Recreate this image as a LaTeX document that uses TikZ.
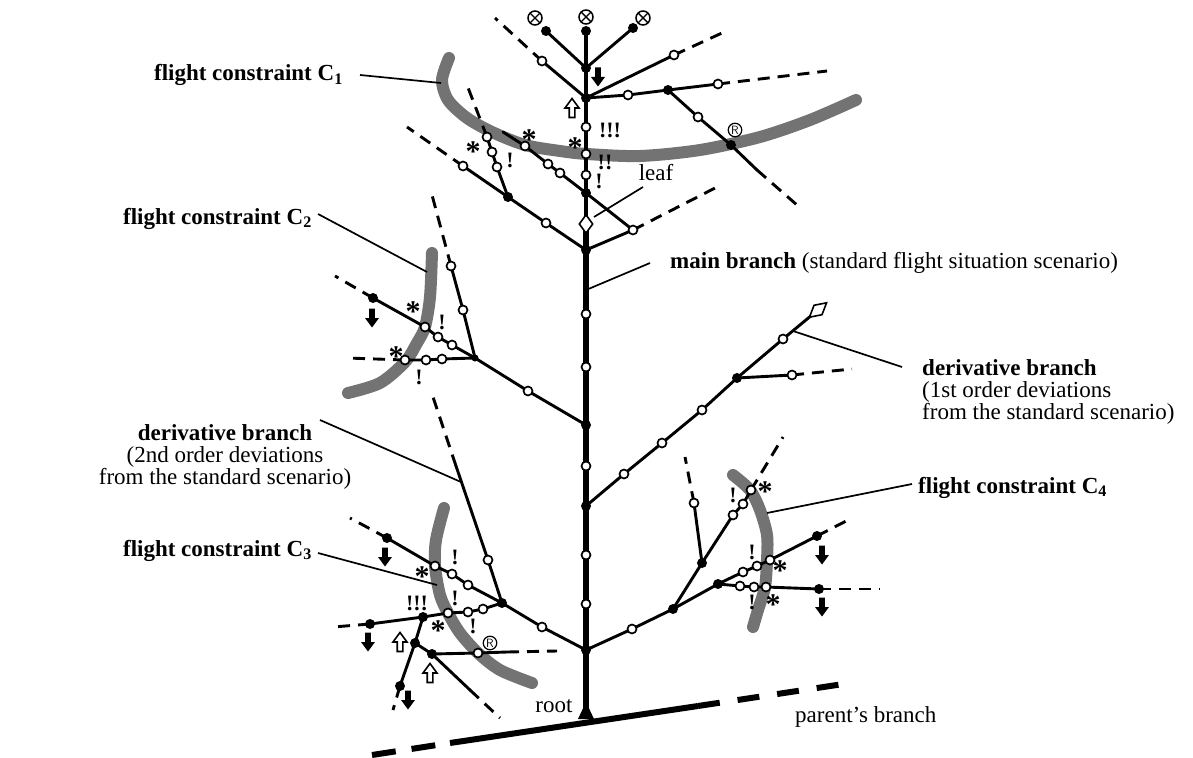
\documentclass[tikz,border=0pt]{standalone}
\usepackage{fontspec}
\setmainfont{Liberation Serif}
\usetikzlibrary{shapes.geometric}
\begin{document}
\begin{tikzpicture}[x=1pt,y=-1pt,
  br/.style={line width=2.9pt, line cap=round, line join=round},
  dsh/.style={line width=2.9pt, dash pattern=on 12pt off 8pt},
  ldr/.style={line width=1.7pt},
  oc/.style={circle, draw, fill=white, line width=1.7pt, inner sep=0pt, minimum size=9pt},
  fc/.style={circle, fill=black, inner sep=0pt, minimum size=10pt},
  cons/.style={draw=black!55, line width=12pt, line cap=round, line join=round},
  lab/.style={font=\fontsize{23}{22}\selectfont, inner sep=0pt},
  blab/.style={font=\bfseries\fontsize{23}{22}\selectfont, inner sep=0pt},
  ast/.style={font=\bfseries\fontsize{30}{30}\selectfont, inner sep=0pt},
  exc/.style={font=\bfseries\fontsize{22}{22}\selectfont, inner sep=0pt},
  regm/.style={circle, draw, line width=1.2pt, fill=white, inner sep=0.8pt, font=\sffamily\fontsize{12}{12}\selectfont},
  darr/.pic={\fill[black] (-2.8,-9.5) -- (2.8,-9.5) -- (2.8,0) -- (7,0) -- (0,9.5) -- (-7,0) -- (-2.8,0) -- cycle;},
  uarr/.pic={\draw[line width=1.6pt, fill=white, line join=miter] (-2.8,9.5) -- (2.8,9.5) -- (2.8,0) -- (7,0) -- (0,-9.5) -- (-7,0) -- (-2.8,0) -- cycle;},
  otim/.pic={\draw[line width=1.5pt, fill=white] (0,0) circle (7pt); \draw[line width=1.4pt] (-4.9,-4.9) -- (4.9,4.9) (-4.9,4.9) -- (4.9,-4.9);}
]
\useasboundingbox (0,0) rectangle (1193,757);

% ---------- constraint arcs ----------
\draw[cons] plot[smooth] coordinates {(449,58) (442,80) (448,100) (467,118) (492,132) (525,145) (560,151) (587,154) (640,156) (700,150) (760,137) (810,120) (856,100)};
\draw[cons] plot[smooth] coordinates {(432,253) (430,297) (425,327) (417,343) (405,362) (380,383) (348,393)};
\draw[cons] plot[smooth] coordinates {(444,508) (436,540) (435,566) (440,595) (448,613) (460,633) (478,653) (500,670) (532,683)};
\draw[cons] plot[smooth] coordinates {(733,475) (750,490) (760,510) (767,535) (767,560) (765,587) (758,610) (753,627)};

% ---------- trunk coordinates ----------
\coordinate (root) at (586,716);
\coordinate (t650) at (586,650);
\coordinate (t604) at (586,604);
\coordinate (t555) at (586,555);
\coordinate (t506) at (586,506);
\coordinate (t466) at (586,466);
\coordinate (t425) at (586,425);
\coordinate (t367) at (586,367);
\coordinate (t314) at (586,314);
\coordinate (t290) at (586,290);
\coordinate (t250) at (586,250);
\coordinate (leafd) at (586,224);
\coordinate (t193) at (586,193);
\coordinate (t175) at (586,175);
\coordinate (t154) at (586,154);
\coordinate (t127) at (586,127);
\coordinate (t98) at (586,98);
\coordinate (t68) at (586,68);
\coordinate (t31) at (586,31);

% parent's branch
\coordinate (pb0) at (372,755);
\coordinate (pb1) at (450,743);
\coordinate (pb2) at (698,706);
\coordinate (pb3) at (850,683);
\draw[line width=6pt] (pb1) -- (pb2);
\draw[line width=6pt, dash pattern=on 24pt off 16pt] (pb0) -- (pb1);
\draw[line width=6pt, dash pattern=on 22pt off 18pt] (pb2) -- (pb3);

\draw[line width=5.5pt] (root) -- (leafd);
\draw[line width=3.4pt] (leafd) -- (t31);
\fill (578,719) -- (594,719) -- (586,702) -- cycle;

% ---------- top crown ----------
\coordinate (l31) at (546,31);
\coordinate (r28) at (633,28);
\draw[br] (t68) -- (l31);
\draw[br] (t68) -- (r28);
\coordinate (a61) at (542,61); \coordinate (a18) at (495,18);
\draw[br] (t98) -- (a61); \draw[dsh] (a61) -- (a18);
\coordinate (b55) at (674,55); \coordinate (b33) at (722,33);
\draw[br] (t98) -- (b55); \draw[dsh] (b55) -- (b33);
\coordinate (c95) at (628,95); \coordinate (c90) at (668,90); \coordinate (c84) at (718,84); \coordinate (c71) at (827,71);
\draw[br] (t98) -- (c95) -- (c90) -- (c84); \draw[dsh] (c84) -- (c71);
\coordinate (e117) at (698,117); \coordinate (e145) at (731,145); \coordinate (e170) at (757,170); \coordinate (e205) at (797,205);
\draw[br] (c90) -- (e117) -- (e145) -- (e170); \draw[dsh] (e170) -- (e205);

\coordinate (m223) at (546,223); \coordinate (m197) at (508,197); \coordinate (m166) at (463,166); \coordinate (m127) at (407,127);
\draw[br] (t250) -- (m223) -- (m197) -- (m166); \draw[dsh] (m166) -- (m127);
\coordinate (n167) at (497,167); \coordinate (n152) at (492,152); \coordinate (n137) at (487,137); \coordinate (n85) at (467,85);
\draw[br] (m197) -- (n167) -- (n152) -- (n137); \draw[dsh] (n137) -- (n85);
\coordinate (p132) at (503,132); \coordinate (p146) at (525,146); \coordinate (p164) at (548,164); \coordinate (p173) at (560,173); \coordinate (q230) at (633,230); \coordinate (q187) at (717,187);
\draw[br] (p132) -- (p146) -- (p164) -- (p173) -- (t193) -- (q230);
\draw[br] (t250) -- (q230); \draw[dsh] (q230) -- (q187);

% ---------- C2 region ----------
\coordinate (s298) at (373,298); \coordinate (s277) at (335,276); \coordinate (s327) at (425,327); \coordinate (s337) at (438,337); \coordinate (s345) at (452,345); \coordinate (j2) at (475,358); \coordinate (s391) at (528,391);
\draw[br] (t425) -- (s391) -- (j2) -- (s345) -- (s337) -- (s327) -- (s298); \draw[dsh] (s298) -- (s277);
\coordinate (h405) at (405,360); \coordinate (h426) at (426,360); \coordinate (h442) at (442,359); \coordinate (h348) at (347,358);
\draw[br] (j2) -- (h442) -- (h426) -- (h405); \draw[dsh] (h405) -- (h348);
\coordinate (v310) at (463,310); \coordinate (v266) at (451,266); \coordinate (v195) at (432,195);
\draw[br] (j2) -- (v310) -- (v266); \draw[dsh] (v266) -- (v195);

% ---------- 2nd order branch ----------
\coordinate (k397) at (433,397); \coordinate (k466) at (456,466); \coordinate (k482) at (461,482); \coordinate (k560) at (488,560); \coordinate (j3) at (502,603);
\draw[br] (j3) -- (k560) -- (k466); \draw[dsh] (k466) -- (k397);

% ---------- C3 region ----------
\coordinate (u538) at (387,538); \coordinate (u518) at (350,518); \coordinate (u566) at (435,566); \coordinate (u574) at (452,574); \coordinate (u585) at (468,585); \coordinate (u627) at (542,627);
\draw[br] (t650) -- (u627) -- (j3) -- (u585) -- (u574) -- (u566) -- (u538); \draw[dsh] (u538) -- (u518);
\coordinate (w609) at (483,609); \coordinate (w612) at (468,612); \coordinate (w613) at (448,613); \coordinate (v617) at (423,617); \coordinate (v624) at (370,624); \coordinate (v627) at (333,627);
\draw[br] (j3) -- (w609) -- (w612) -- (w613) -- (v617) -- (v624); \draw[dsh] (v624) -- (v627);
\coordinate (x643) at (415,643); \coordinate (x686) at (400,686); \coordinate (x707) at (393,710);
\draw[br] (v617) -- (x643) -- (x686); \draw[dsh] (x686) -- (x707);
\coordinate (y654) at (432,654); \coordinate (y690) at (470,690); \coordinate (y717) at (500,718);
\draw[br] (x643) -- (y654) -- (y690); \draw[dsh] (y690) -- (y717);
\coordinate (z653) at (478,653); \coordinate (z652) at (507,652); \coordinate (z651) at (557,651);
\draw[br] (y654) -- (z653) -- (z652); \draw[dsh] (z652) -- (z651);

% ---------- C4 region ----------
\coordinate (g629) at (632,629); \coordinate (g609) at (673,609); \coordinate (g584) at (718,584);
\draw[br] (t650) -- (g629) -- (g609) -- (g584);
\coordinate (h586) at (740,586); \coordinate (h587) at (754,587); \coordinate (h588) at (766,587); \coordinate (h589) at (819,589); \coordinate (h589d) at (880,589);
\draw[br] (g584) -- (h586) -- (h587) -- (h588) -- (h589); \draw[dsh] (h589) -- (h589d);
\coordinate (i572) at (743,572); \coordinate (i566) at (757,566); \coordinate (i560) at (770,560); \coordinate (i536) at (817,536); \coordinate (i518) at (852,518);
\draw[br] (g584) -- (i572) -- (i566) -- (i560) -- (i536); \draw[dsh] (i536) -- (i518);
\coordinate (zz563) at (702,563); \coordinate (f503) at (694,503); \coordinate (f457) at (685,457);
\draw[br] (g609) -- (zz563) -- (f503); \draw[dsh] (f503) -- (f457);
\coordinate (o515) at (733,515); \coordinate (o504) at (743,504); \coordinate (o490) at (751,490); \coordinate (o437) at (783,437);
\draw[br] (zz563) -- (o515) -- (o504) -- (o490); \draw[dsh] (o490) -- (o437);

% ---------- 1st order branch ----------
\coordinate (d474) at (624,474); \coordinate (d443) at (662,443); \coordinate (d410) at (702,410); \coordinate (d378) at (737,378); \coordinate (d339) at (783,339); \coordinate (d332) at (793,331); \coordinate (dia) at (818,310);
\draw[br] (t506) -- (d474) -- (d443) -- (d410) -- (d378) -- (d339) -- (dia);
\coordinate (d375) at (792,375); \coordinate (d369) at (852,369);
\draw[br] (d378) -- (d375); \draw[dsh] (d375) -- (d369);

% ---------- markers ----------
\foreach \p in {t604,t555,t466,t367,t314,t175,t154,t127,c95,c84,a61,b55,e117,m223,m166,n167,n152,n137,p146,p164,p173,q230,
  s327,s337,s345,s391,h405,h426,h442,v310,v266,k560,u566,u574,u585,u627,w609,w612,w613,z653,
  g629,h586,h587,h588,i572,i566,i560,f503,o515,o504,o490,d474,d443,d410,d339,d375}
  \node[oc] (mk-\p) at (\p) {};
\foreach \p in {t650,t506,t425,t250,t193,t98,t68,t31,l31,r28,c90,e145,m197,s298,u538,j3,v617,v624,x643,x686,y654,
  g609,g584,h589,i536,zz563,d378}
  \node[fc] (mk-\p) at (\p) {};
\node[fc, minimum size=7pt] (mk-j2) at (j2) {};
\node[diamond, draw, fill=white, line width=1.6pt, inner sep=0pt, minimum width=14pt, minimum height=19pt] (leafdia) at (leafd) {};
\node[diamond, draw, fill=white, line width=1.6pt, inner sep=0pt, minimum width=23pt, minimum height=13pt, rotate=40] (tipdia) at (dia) {};

\pic (ot1) at (535,18) {otim};
\pic (ot2) at (586,17) {otim};
\pic (ot3) at (643,18) {otim};

\node[regm] (reg1) at (735,130) {R};
\node[regm] (reg2) at (490,643) {R};

% arrows
\pic (da1) at (598,77) {darr};
\pic (da2) at (372,318) {darr};
\pic (da3) at (385,557) {darr};
\pic (da4) at (368,642) {darr};
\pic (da5) at (408,700) {darr};
\pic (da6) at (822,555) {darr};
\pic (da7) at (822,607) {darr};
\pic (ua1) at (572,108) {uarr};
\pic (ua2) at (400,642) {uarr};
\pic (ua3) at (430,673) {uarr};

% asterisks
\foreach \q [count=\i] in {(575,148),(529,140),(473,152),(413,312),(396,357),(422,577),(438,631),(765,492),(780,571),(773,605)}
  \node[ast] (as\i) at \q {*};
% exclamation marks
\node[exc] (ex1) at (610,130) {!!!};
\node[exc] (ex2) at (605,162) {!!};
\node[exc] (ex3) at (599,181) {!};
\node[exc] (ex4) at (510,160) {!};
\node[exc] (ex5) at (442,322) {!};
\node[exc] (ex6) at (419,377) {!};
\node[exc] (ex7) at (417,603) {!!!};
\node[exc] (ex8) at (455,598) {!};
\node[exc] (ex9) at (473,626) {!};
\node[exc] (ex10) at (455,557) {!};
\node[exc] (ex11) at (733,495) {!};
\node[exc] (ex12) at (752,552) {!};
\node[exc] (ex13) at (752,602) {!};

% ---------- labels ----------
\node[blab, anchor=base east] (lC1) at (343,81) {flight constraint C\textsubscript{1}};
\node[blab, anchor=base east] (lC2) at (312,224) {flight constraint C\textsubscript{2}};
\node[blab, anchor=base east] (lC3) at (312,556) {flight constraint C\textsubscript{3}};
\node[blab, anchor=base west] (lC4) at (918,493) {flight constraint C\textsubscript{4}};
\node[lab, anchor=base west] (lmain) at (670,268) {\textbf{main branch} (standard flight situation scenario)};
\node[lab, anchor=base west, align=left] (l1st) at (922,419) {\textbf{derivative branch}\\(1st order deviations\\from the standard scenario)};
\node[lab, anchor=base, align=center] (l2nd) at (225,484) {\textbf{derivative branch}\\(2nd order deviations\\from the standard scenario)};
\node[lab] (lleaf) at (656,173) {leaf};
\node[lab] (lroot) at (554,706) {root};
\node[lab, anchor=base west] (lpar) at (795,722) {parent's branch};

% leaders
\coordinate (c1a) at (360,75); \coordinate (c1b) at (441,83);
\draw[ldr] (c1a) -- (c1b);
\coordinate (c2a) at (318,214); \coordinate (c2b) at (427,272);
\draw[ldr] (c2a) -- (c2b);
\coordinate (c3a) at (318,553); \coordinate (c3b) at (437,585);
\draw[ldr] (c3a) -- (c3b);
\coordinate (c4a) at (767,513); \coordinate (c4b) at (912,484);
\draw[ldr] (c4a) -- (c4b);
\coordinate (mla) at (650,263);
\draw[ldr] (mla) -- (t290);
\coordinate (b1a) at (902,367);
\draw[ldr] (d332) -- (b1a);
\coordinate (b2a) at (320,420);
\draw[ldr] (b2a) -- (k482);
\coordinate (lfa) at (643,187); \coordinate (lfb) at (594,217);
\draw[ldr] (lfa) -- (lfb);
\end{tikzpicture}
\end{document}
